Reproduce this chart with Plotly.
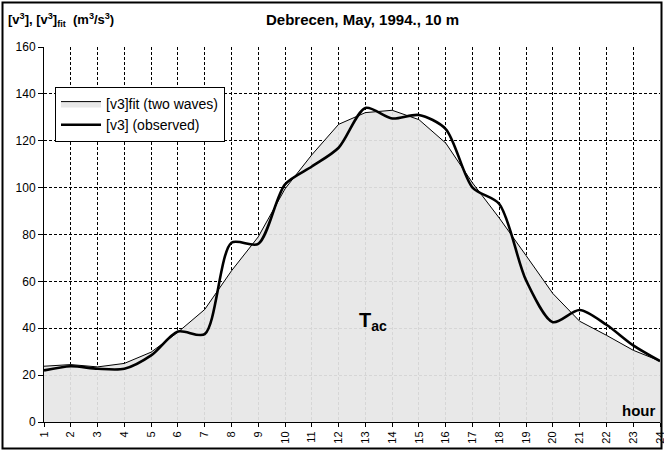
import plotly.graph_objects as go

hours = list(range(1, 25))
observed = [22, 23.8, 22.7, 22.7, 28.4, 38.6, 37.5, 76.5, 76, 101.4, 109, 117, 134, 129.5, 131,
            125, 100, 93, 60.4, 42.6, 47.8, 41.5, 32.7, 26]
fit = [23.8, 24.5, 23.5, 25, 29.8, 38.3, 48, 64.5, 79, 99.5, 114, 127, 132, 133, 129,
       119, 102, 87, 71, 54.8, 43, 37, 30.6, 26]

W, H = 664, 451
L, R, T, B = 44, 4, 47, 29
pw, ph = W - L - R, H - T - B

def px(x):
    return (x - L) / pw

def py(y):
    return (H - B - y) / ph

fig = go.Figure()
fig.add_trace(go.Scatter(
    x=hours, y=fit, name="[v3]fit (two waves)", mode="lines",
    line=dict(color="black", width=1), fill="tozeroy",
    fillcolor="rgba(230,230,230,0.93)",
))
fig.add_trace(go.Scatter(
    x=hours, y=observed, name="[v3] (observed)", mode="lines",
    line=dict(color="black", width=2.6, shape="spline", smoothing=0.8),
))

fig.update_layout(
    width=W, height=H,
    margin=dict(l=L, r=R, t=T, b=B, autoexpand=False),
    paper_bgcolor="white", plot_bgcolor="white",
    font=dict(family="Arial, Liberation Sans, sans-serif", size=12, color="black"),
    showlegend=True,
    legend=dict(x=px(55), y=py(87), xanchor="left", yanchor="top",
                bgcolor="white", bordercolor="black", borderwidth=1,
                font=dict(size=14), tracegroupgap=0, itemwidth=40),
    xaxis=dict(range=[1, 24], tickmode="array", tickvals=hours,
               ticktext=[str(h) for h in hours], tickangle=-90,
               ticklabeloverflow="allow", automargin=False,
               showgrid=True, gridcolor="black", griddash="3px,2px", gridwidth=1,
               showline=True, linecolor="black", linewidth=1,
               ticks="outside", ticklen=4, tickcolor="black",
               tickfont=dict(size=11), zeroline=False),
    yaxis=dict(range=[0, 160], dtick=20, automargin=False,
               showgrid=True, gridcolor="black", griddash="3px,2px", gridwidth=1,
               showline=True, linecolor="black", linewidth=1,
               ticks="outside", ticklen=5, tickcolor="black",
               tickfont=dict(size=12), zeroline=False),
    shapes=[dict(type="rect", xref="paper", yref="paper",
                 x0=px(2.5), x1=px(661.5), y0=py(448.5), y1=py(2.5),
                 line=dict(color="black", width=2), fillcolor="rgba(0,0,0,0)")],
    annotations=[
        dict(text="<b>Debrecen, May, 1994., 10 m</b>", xref="paper", yref="paper",
             x=px(362), y=py(20), xanchor="center", yanchor="middle",
             showarrow=False, font=dict(size=15)),
        dict(text="<b>[v<sup>3</sup>], [v<sup>3</sup>]<sub>fit</sub>  (m<sup>3</sup>/s<sup>3</sup>)</b>",
             xref="paper", yref="paper", x=px(6), y=py(20), xanchor="left", yanchor="middle",
             showarrow=False, font=dict(size=13)),
        dict(text="<b>T<sub>ac</sub></b>", xref="x", yref="y", x=13.3, y=43,
             xanchor="center", yanchor="middle", showarrow=False, font=dict(size=20)),
        dict(text="<b>hour</b>", xref="paper", yref="paper", x=px(657), y=py(410),
             xanchor="right", yanchor="middle", showarrow=False, font=dict(size=15)),
    ],
)

fig.write_html("out.html", config={"displayModeBar": False},
               post_script="document.body.style.margin='0';document.body.style.overflow='hidden';")
